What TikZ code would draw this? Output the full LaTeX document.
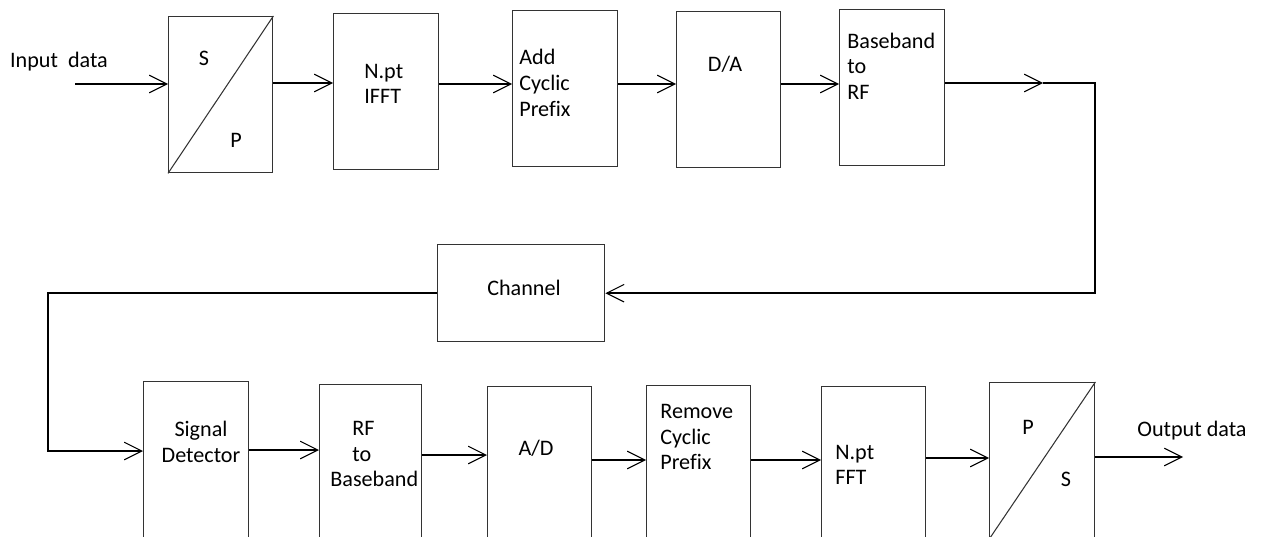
\documentclass[tikz,border=0pt]{standalone}
\usepackage{fontspec}
\setmainfont{Carlito}[Ligatures=CommonOff]
\usetikzlibrary{arrows.meta}
\tikzset{
  blk/.style={draw=black!80, line width=0.8pt, anchor=north west, inner sep=0pt,
              minimum width=2.08cm, minimum height=3.12cm},
  sig/.style={-{Straight Barb[length=10pt,width=10pt,line width=0.6pt]}, line width=0.8pt},
  lbl/.style={font=\fontsize{12.6}{14.6}\selectfont, inner sep=0pt, align=left},
}
\begin{document}
\begin{tikzpicture}[x=0.02cm, y=-0.02cm]
    \useasboundingbox (0,0) rectangle (1261,537);
    % transmitter row
    \node[blk] (sp) at (168,16) {};
    \node[blk, minimum width=2.1cm] (ifft) at (333,13) {};
    \node[blk, minimum width=2.1cm] (acp) at (512,10) {};
    \node[blk] (da) at (676,11) {};
    \node[blk, minimum width=2.1cm] (bbrf) at (839,9) {};
    \draw[black!80, line width=0.6pt] (sp.south west) -- (sp.north east);
    \node[lbl] (spS) at (204,58) {S};
    \node[lbl] (spP) at (236,140) {P};
    \node[lbl, anchor=west] (ifftT) at (364,84) {N.pt\\IFFT};
    \node[lbl, anchor=west] (acpT) at (519,83) {Add\\Cyclic\\Prefix};
    \node[lbl] (daT) at (725,64) {D/A};
    \node[lbl, anchor=west] (bbrfT) at (847,66) {Baseband\\to\\RF};
    \node[lbl] (inT) at (59,62) {Input\ \ data};
    % channel
    \node[blk, minimum width=3.34cm, minimum height=1.94cm] (chan) at (437,244) {};
    \node[lbl] (chanT) at (524,288) {Channel};
    % receiver row
    \node[blk, minimum width=2.1cm] (sd) at (143,381) {};
    \node[blk, minimum width=2.04cm] (rfbb) at (319,384) {};
    \node[blk] (ad) at (487,386) {};
    \node[blk] (rcp) at (646,385) {};
    \node[blk] (fft) at (821,386) {};
    \node[blk, minimum width=2.1cm] (ps) at (989,382) {};
    \draw[black!80, line width=0.6pt] (ps.south west) -- (ps.north east);
    \node[lbl, align=center] (sdT) at (201,442) {Signal\\Detector};
    \node[lbl, anchor=west] (rfbbT) at (330,454) {\hspace*{0.44cm}RF\\\hspace*{0.44cm}to\\Baseband};
    \node[lbl] (adT) at (536,448) {A/D};
    \node[lbl, anchor=west] (rcpT) at (660,437) {Remove\\Cyclic\\Prefix};
    \node[lbl, anchor=west] (fftT) at (835,465) {N.pt\\FFT};
    \node[lbl] (psP) at (1028,427) {P};
    \node[lbl] (psS) at (1066,479) {S};
    \node[lbl] (outT) at (1192,431) {Output data};

    \coordinate (in) at (75,84);
    \coordinate (mid) at (1043,83);
    \coordinate (corner) at (1095,83);
    \coordinate (bend) at (48,451);
    \coordinate (out) at (1183,457);

    \draw[sig] (in) -- (sp.west |- in);
    \draw[sig] (sp.east |- 0,83) -- (ifft.west |- 0,83);
    \draw[sig] (ifft.east |- 0,84) -- (acp.west |- 0,84);
    \draw[sig] (acp.east |- 0,84) -- (da.west |- 0,84);
    \draw[sig] (da.east |- 0,84) -- (bbrf.west |- 0,84);
    \draw[sig] (bbrf.east |- mid) -- (mid);
    \draw[sig] (mid) -- (corner) |- (chan.east);
    \draw[sig] (chan.west) -| (bend) -- (sd.west |- bend);
    \draw[sig] (sd.east |- 0,450) -- (rfbb.west |- 0,450);
    \draw[sig] (rfbb.east |- 0,455) -- (ad.west |- 0,455);
    \draw[sig] (ad.east |- 0,460) -- (rcp.west |- 0,460);
    \draw[sig] (rcp.east |- 0,460) -- (fft.west |- 0,460);
    \draw[sig] (fft.east |- 0,458) -- (ps.west |- 0,458);
    \draw[sig] (ps.east |- out) -- (out);
  \end{tikzpicture}
\end{document}
